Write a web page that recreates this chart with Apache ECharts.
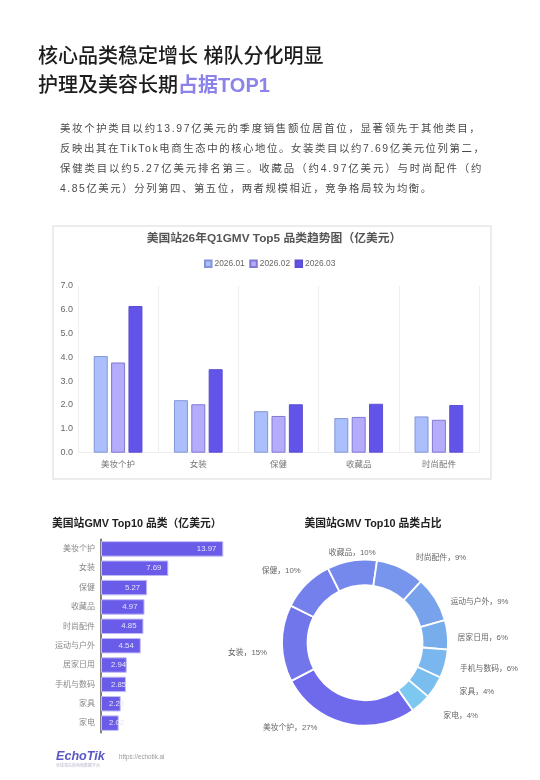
<!DOCTYPE html>
<html><head><meta charset="utf-8">
<script src="https://cdn.jsdelivr.net/npm/echarts@6/dist/echarts.min.js"></script>
<style>
html,body{margin:0;padding:0;background:#fff;width:540px;height:780px;overflow:hidden;font-family:"Liberation Sans","Noto Sans CJK SC",sans-serif}
#chart{position:absolute;left:0;top:0;width:540px;height:780px}
.h{position:absolute;left:38px;top:42px;font-size:20px;line-height:28.5px;font-weight:500;color:#1c1c1c;white-space:nowrap}
.h span{color:#8b83ea;font-weight:700}
.p{position:absolute;left:60px;top:119px;font-size:10.4px;line-height:20px;color:#4a4a4a;white-space:nowrap}
</style></head><body>
<div id="chart"></div>
<div class="h">核心品类稳定增长 梯队分化明显<br>护理及美容长期<span>占据TOP1</span></div>
<div class="p"><div style="letter-spacing:1.7px">美妆个护类目以约13.97亿美元的季度销售额位居首位，显著领先于其他类目，</div><div style="letter-spacing:1.6px">反映出其在TikTok电商生态中的核心地位。女装类目以约7.69亿美元位列第二，</div><div style="letter-spacing:1.87px">保健类目以约5.27亿美元排名第三。收藏品（约4.97亿美元）与时尚配件（约</div><div style="letter-spacing:1.55px">4.85亿美元）分列第四、第五位，两者规模相近，竞争格局较为均衡。</div></div>
<script>
const FONT='"Liberation Sans","Noto Sans CJK SC",sans-serif';
const top5Categories=['美妆个护','女装','保健','收藏品','时尚配件'];
const months=['2026.01','2026.02','2026.03'];
const jan=[4.05,2.2,1.74,1.45,1.52];
const feb=[3.78,2.03,1.54,1.5,1.38];
const mar=[6.15,3.5,2.03,2.05,2.0];
const top10Categories=['美妆个护','女装','保健','收藏品','时尚配件','运动与户外','居家日用','手机与数码','家具','家电'];
const top10Values=[13.97,7.69,5.27,4.97,4.85,4.54,2.94,2.85,2.25,2.02];
const pieColors=['#6f69ec','#7176ea','#7480ec','#7588ec','#7795ec','#78a2ec','#78adec','#79b7ee','#7abeef','#7cc8f0'];
const seriesStyles=[['#aabffb','#8394d6'],['#b5acfb','#7f79d2'],['#6254e8','#5c4fd0']];
const pieLabelNudge=[[-24,-3],[-5,9.5],[2,-7],[27,0],[10,-3],[6,7],[0,4],[5,3],[16,0],[15,6]];
const chart=echarts.init(document.getElementById('chart'),null,{renderer:'canvas'});
const titleStyle=(size,color)=>({fontSize:size,fontWeight:'bold',color:color,fontFamily:FONT});
chart.setOption({
 animation:false,
 textStyle:{fontFamily:FONT},
 title:[
  {text:'美国站26年Q1GMV Top5 品类趋势图（亿美元）',left:274,top:233,padding:0,textAlign:'center',textStyle:titleStyle(11.8,'#555')},
  {text:'美国站GMV Top10 品类（亿美元）',left:52,top:519,padding:0,textStyle:titleStyle(10.8,'#222')},
  {text:'美国站GMV Top10 品类占比',left:373,top:519,padding:0,textAlign:'center',textStyle:titleStyle(10.8,'#222')}
 ],
 legend:{data:months,left:204,top:259.5,padding:0,itemWidth:6.5,itemHeight:6.5,itemGap:4.5,icon:'rect',textStyle:{fontSize:8.4,color:'#666',padding:[0,0,0,-2]}},
 graphic:[
  {type:'rect',z:-1,shape:{x:53,y:226,width:438,height:253},style:{fill:'#fff',stroke:'#e6e6e6',lineWidth:1.5}},
  {type:'text',x:56,y:757,style:{text:'EchoTik',font:'italic bold 12.6px "Liberation Sans"',fill:'#5a55c8',textVerticalAlign:'middle'}},
  {type:'text',x:56,y:765,style:{text:'全球领先的电商数据平台',font:'4px "Noto Sans CJK SC"',fill:'#b5b5cc',textVerticalAlign:'middle'}},
  {type:'text',x:119,y:757.7,style:{text:'https://echotik.ai',font:'6.3px "Liberation Sans"',fill:'#999',textVerticalAlign:'middle'}}
 ],
 grid:[
  {left:78,right:61,top:285.7,height:167},
  {left:101,width:122.6,top:539.2,height:193.6}
 ],
 xAxis:[
  {gridIndex:0,type:'category',data:top5Categories,axisTick:{show:false},axisLine:{lineStyle:{color:'#eee'}},axisLabel:{fontSize:8.5,color:'#777',margin:8},splitLine:{show:true,lineStyle:{color:'#eee'}}},
  {gridIndex:1,type:'value',min:0,max:14,show:false}
 ],
 yAxis:[
  {gridIndex:0,type:'value',min:0,max:7,interval:1,axisLine:{show:false},axisTick:{show:false},splitLine:{show:false},axisLabel:{fontSize:9,color:'#666',margin:5,formatter:v=>v.toFixed(1)}},
  {gridIndex:1,type:'category',inverse:true,data:top10Categories,axisTick:{show:false},axisLine:{lineStyle:{color:'#555',width:1.5}},axisLabel:{fontSize:8,color:'#888',margin:6},splitLine:{show:false}}
 ],
 series:[
  ...[jan,feb,mar].map((d,i)=>({type:'bar',name:months[i],xAxisIndex:0,yAxisIndex:0,data:d,barWidth:14,barGap:'24%',itemStyle:{color:seriesStyles[i][0],borderColor:seriesStyles[i][1],borderWidth:1}})),
  {type:'bar',xAxisIndex:1,yAxisIndex:1,barWidth:15.5,
   itemStyle:{color:'#6a5be8',borderColor:'#c3bdf6',borderWidth:1},
   data:top10Values.map(v=>({value:v,label:v>4?{position:'insideRight',distance:7}:{position:'insideLeft',distance:v<2.5?8:10}})),
   label:{show:true,color:'#e6e4fb',fontSize:7.8,formatter:p=>p.value.toFixed(2)}},
  {type:'pie',center:[365,642.7],radius:[57.5,83],startAngle:-54.7,clockwise:true,avoidLabelOverlap:false,
   data:top10Categories.map((n,i)=>({name:n,value:top10Values[i],itemStyle:{color:pieColors[i]}})),
   itemStyle:{borderColor:'#fff',borderWidth:1.8},
   label:{show:true,position:'outside',formatter:'{b}，{d}%',fontSize:7.8,color:'#666',distanceToLabelLine:0},
   percentPrecision:0,
   labelLine:{show:false,length:8,length2:2},
   labelLayout:p=>({dx:pieLabelNudge[p.dataIndex][0],dy:pieLabelNudge[p.dataIndex][1]})}
 ]
});
</script></body></html>
